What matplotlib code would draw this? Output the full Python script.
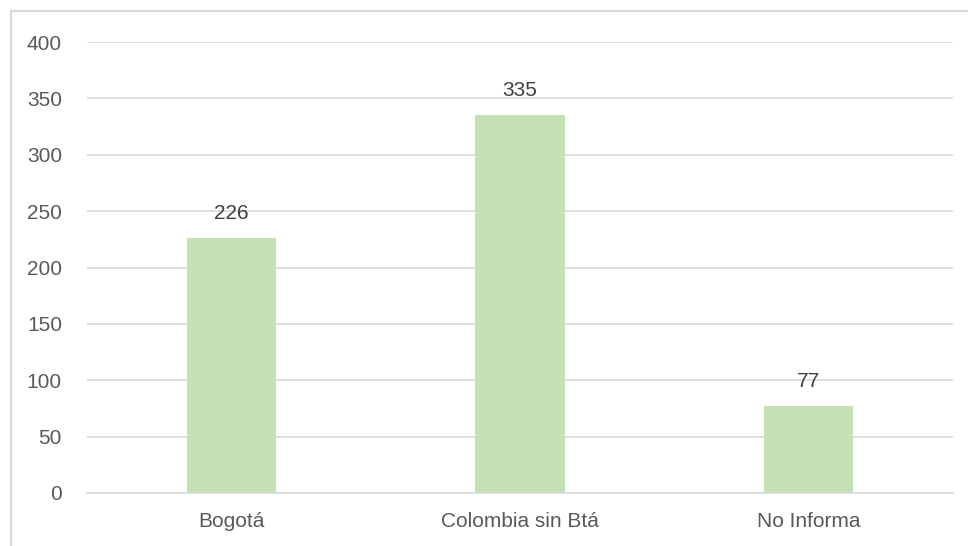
import matplotlib
matplotlib.use("Agg")
from matplotlib import pyplot as plt
from matplotlib.patches import Rectangle

categories = ["Bogotá", "Colombia sin Btá", "No Informa"]
values = [226, 335, 77]
y_ticks = [0, 50, 100, 150, 200, 250, 300, 350, 400]

bar_color = "#c5e0b4"
text_color = "#595959"
grid_color = "#d9d9d9"

plt.rcParams["font.family"] = ["Liberation Sans", "DejaVu Sans"]

fig = plt.figure(figsize=(9.68, 5.46), dpi=100)
ax = fig.add_axes([87 / 968, 1 - 493 / 546, (953 - 87) / 968, (493 - 42) / 546])

positions = list(range(len(categories)))
bars = ax.bar(positions, values, width=0.31, color=bar_color, zorder=2)

for bar, v in zip(bars, values):
    ax.annotate(str(v), (bar.get_x() + bar.get_width() / 2, v),
                xytext=(0, 11), textcoords="offset points",
                ha="center", va="bottom", fontsize=15, color="#404040")

ax.set_xlim(-0.5, len(categories) - 0.5)
ax.set_ylim(0, 400)
ax.set_yticks(y_ticks)
ax.set_xticks(positions)
ax.set_xticklabels(categories)
ax.tick_params(axis="both", length=0, labelsize=15, labelcolor=text_color)
ax.tick_params(axis="y", pad=18)
ax.tick_params(axis="x", pad=14)
ax.grid(axis="y", color=grid_color, linewidth=1.2, zorder=0)
for side in ["top", "right", "left"]:
    ax.spines[side].set_visible(False)
ax.spines["bottom"].set_color(grid_color)
ax.spines["bottom"].set_linewidth(1.2)

# outer chart border, cut off on the right and bottom
fig.patches.append(Rectangle((11 / 968, -0.1), 1.2, 1 - 11 / 546 + 0.1,
                             transform=fig.transFigure, fill=False,
                             edgecolor=grid_color, linewidth=1.5))

fig.savefig("out.png", dpi=100)
